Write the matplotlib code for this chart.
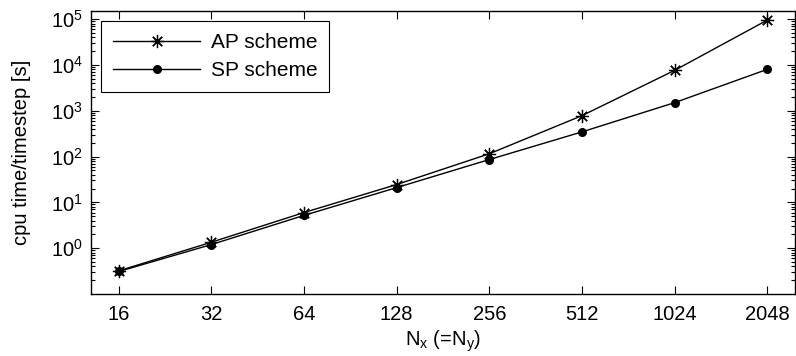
import numpy as np
import matplotlib
matplotlib.use("Agg")
import matplotlib.pyplot as plt
from matplotlib.ticker import FixedLocator, FixedFormatter, LogLocator, NullFormatter

plt.rcParams['font.family'] = ['Liberation Sans', 'DejaVu Sans']

# grid sizes and timings
nx = [16, 32, 64, 128, 256, 512, 1024, 2048]
nx_labels = ['16', '32', '64', '128', '256', '512', '1024', '2048']
ap_time = [0.32, 1.35, 6.0, 24.5, 115, 780, 7600, 95000]
sp_time = [0.31, 1.2, 5.2, 21, 86, 345, 1500, 8000]
y_major = [1e0, 1e1, 1e2, 1e3, 1e4, 1e5]

fs = 14.5

fig = plt.figure(figsize=(7.96, 3.56), dpi=100)
ax = fig.add_axes([91/796, 1 - 294/356, (795-91)/796, (294-11)/356])

ax.plot(nx, ap_time, 'k-', marker=(8, 2, 0), markersize=9.5, markeredgewidth=0.9,
        linewidth=1.0, label='AP scheme')
ax.plot(nx, sp_time, 'k-', marker='o', markersize=5.5,
        linewidth=1.0, label='SP scheme')

ax.set_xscale('log', base=2)
ax.set_yscale('log')
ax.set_xlim(13.0, 2520)
ax.set_ylim(0.1, 1.5e5)

ax.xaxis.set_major_locator(FixedLocator(nx))
ax.xaxis.set_major_formatter(FixedFormatter(nx_labels))
ax.xaxis.set_minor_locator(FixedLocator([]))
ax.yaxis.set_major_locator(FixedLocator(y_major))
ax.yaxis.set_minor_locator(LogLocator(base=10, subs=np.arange(2, 10), numticks=20))
ax.yaxis.set_minor_formatter(NullFormatter())

ax.tick_params(which='both', direction='in', top=True, right=True,
               labelsize=fs, width=0.8)
ax.tick_params(which='major', length=6)
ax.tick_params(which='minor', length=3)
ax.tick_params(axis='x', pad=8)
ax.tick_params(axis='y', pad=6)
for s in ax.spines.values():
    s.set_linewidth(1.0)

ax.set_ylabel('cpu time/timestep [s]', fontsize=fs, labelpad=14)
ax.set_xlabel(r'N$_\mathregular{x}$ (=N$_\mathregular{y}$)', fontsize=fs, labelpad=3)

leg = ax.legend(loc='upper left', fontsize=fs + 0.5, fancybox=False, framealpha=1,
                edgecolor='black', handlelength=4.2, handletextpad=0.5,
                borderaxespad=0.5, borderpad=0.55, labelspacing=0.45)
leg.get_frame().set_linewidth(0.8)

fig.savefig('out.png', dpi=100)
